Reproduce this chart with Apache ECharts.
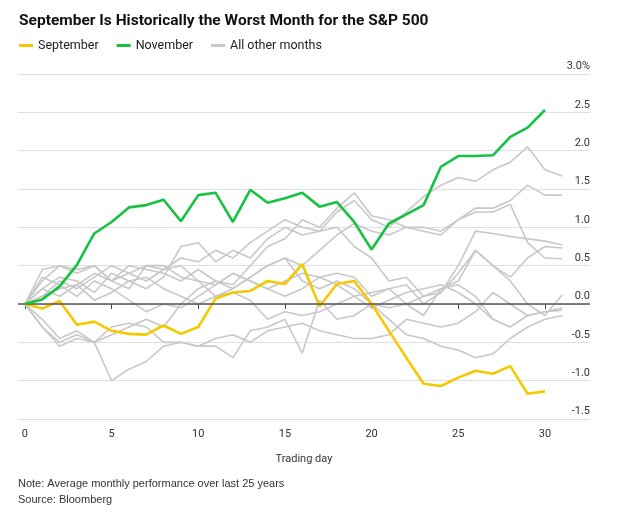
<html>
<head>
    <meta charset="utf-8">
    <title>September S&P 500</title>
    <style>
        body { margin: 0; background: #fff; }
        #chart { width: 619px; height: 507px; }
    </style>
</head>
<body>
<div id="chart"></div>
<script src="https://cdn.jsdelivr.net/npm/echarts@6/dist/echarts.min.js"></script>
<script>
    var days = [];
    for (var i = 0; i <= 31; i++) days.push(i);

    var september = [0, -0.06, 0.04, -0.27, -0.23, -0.35, -0.39, -0.40, -0.28, -0.39, -0.30, 0.07, 0.15, 0.17, 0.30, 0.26,
        0.52, -0.03, 0.26, 0.30, 0, -0.35, -0.70, -1.04, -1.07, -0.96, -0.87, -0.91, -0.81, -1.17, -1.14];
    var november = [0, 0.06, 0.23, 0.51, 0.92, 1.07, 1.26, 1.29, 1.36, 1.08, 1.42, 1.45, 1.07, 1.49, 1.32, 1.38,
        1.45, 1.27, 1.33, 1.07, 0.71, 1.05, 1.17, 1.29, 1.79, 1.93, 1.93, 1.94, 2.18, 2.30, 2.53];

    var others = [
        [0, 0.3, 0.5, 0.4, 0.5, 0.3, 0.4, 0.5, 0.45, 0.6, 0.55, 0.7, 0.6, 0.8, 0.95, 1.1, 1.0, 0.95, 1.2, 1.35, 1.1, 1.0, 1.2, 1.4, 1.55, 1.65, 1.6, 1.75, 1.85, 2.05, 1.75, 1.67],
        [0, -0.3, -0.5, -0.4, -0.5, -0.4, -0.3, -0.2, -0.3, 0.0, 0.2, 0.3, 0.25, 0.5, 0.75, 0.85, 1.1, 1.0, 1.25, 1.45, 1.15, 1.1, 1.0, 0.95, 0.9, 1.1, 1.25, 1.25, 1.35, 1.55, 1.42, 1.42],
        [0, 0.2, 0.35, 0.3, 0.15, 0.4, 0.3, 0.2, 0.35, 0.75, 0.8, 0.55, 0.7, 0.6, 0.85, 1.0, 0.9, 0.95, 1.0, 0.75, 0.6, 0.3, 0.35, 0.1, 0.15, 0.5, 0.95, 0.92, 0.88, 0.85, 0.82, 0.77],
        [0, 0.45, 0.5, 0.45, 0.5, 0.3, 0.2, 0.5, 0.5, 0.35, 0.3, 0.25, 0.4, 0.3, 0.2, 0.3, 0.4, 0.35, 0.4, 0.35, 0.1, 0.2, 0.25, 0.0, 0.15, 0.4, 0.7, 0.5, 0.35, 0.6, 0.75, 0.73],
        [0, 0.1, 0.3, 0.2, 0.35, 0.5, 0.4, 0.3, 0.45, 0.5, 0.3, 0.1, 0.2, 0.35, 0.5, 0.6, 0.5, 0.7, 0.9, 1.05, 0.95, 0.9, 1.0, 1.0, 0.95, 1.1, 1.2, 1.2, 1.3, 0.8, 0.6, 0.59],
        [0, 0.35, 0.25, 0.1, 0.3, 0.2, 0.05, -0.1, 0.0, -0.05, 0.1, 0.25, 0.4, 0.3, 0.2, 0.1, 0.2, 0.35, 0.25, 0.1, 0.15, 0.2, 0.0, 0.1, 0.2, 0.3, 0.7, 0.5, 0.3, 0.0, -0.15, 0.12],
        [0, 0.2, 0.1, 0.25, 0.05, 0.15, 0.3, 0.35, 0.2, 0.1, 0.0, 0.1, 0.15, 0.05, -0.2, -0.1, -0.15, -0.1, 0.0, 0.1, -0.05, 0.05, 0.15, 0.2, 0.25, 0.15, 0.0, -0.2, -0.3, -0.15, -0.1, -0.08],
        [0, 0.1, 0.2, 0.25, 0.4, 0.3, 0.5, 0.45, 0.4, 0.3, 0.45, 0.3, 0.2, 0.35, 0.5, 0.6, 0.3, 0.2, 0.3, 0.2, 0.0, -0.05, 0.0, -0.15, 0.2, 0.25, 0.1, -0.2, -0.3],
        [0, -0.2, -0.45, -0.35, -0.5, -1.0, -0.85, -0.75, -0.55, -0.5, -0.55, -0.55, -0.7, -0.35, -0.3, -0.2, -0.64, 0.05, -0.2, -0.15, 0.0, -0.2, -0.4, -0.45, -0.55, -0.6, -0.7, -0.65, -0.45, -0.3, -0.2, -0.15],
        [0, -0.3, -0.55, -0.45, -0.5, -0.3, -0.25, -0.3, -0.5, -0.5, -0.55, -0.45, -0.4, -0.5, -0.35, -0.3, -0.25, -0.35, -0.4, -0.45, -0.45, -0.4, -0.2, -0.25, -0.3, -0.25, -0.1, 0.15, 0.0, -0.15, -0.1, -0.05]
    ];

    var xTicks = [0, 5, 10, 15, 20, 25, 30];

    function pairs(arr) {
        return arr.map(function (v, i) { return [days[i], v]; });
    }

    var series = [];
    others.forEach(function (arr, k) {
        var s = {
            name: 'All other months',
            type: 'line',
            data: pairs(arr),
            symbol: 'none',
            lineStyle: { color: '#c8c8c8', width: 1.6 },
            itemStyle: { color: '#c8c8c8' },
            z: 2
        };
        if (k === 0) {
            s.markLine = {
                silent: true,
                symbol: 'none',
                label: { show: false },
                lineStyle: { color: '#555', width: 1.5, type: 'solid' },
                data: [{ yAxis: 0 }]
            };
        }
        series.push(s);
    });
    series.push({
        name: 'September', type: 'line', data: pairs(september), symbol: 'none',
        lineStyle: { color: '#f5c800', width: 2.6 }, itemStyle: { color: '#f5c800' }, z: 4
    });
    series.push({
        name: 'November', type: 'line', data: pairs(november), symbol: 'none',
        lineStyle: { color: '#17c243', width: 2.6 }, itemStyle: { color: '#17c243' }, z: 5
    });

    var option = {
        animation: false,
        textStyle: { fontFamily: 'Roboto, Arial, sans-serif' },
        title: {
            text: 'September Is Historically the Worst Month for the S&P 500',
            left: 14, top: 8,
            textStyle: { fontSize: 15.5, fontWeight: 'bold', color: '#111' }
        },
        legend: {
            data: ['September', 'November', 'All other months'],
            left: 14, top: 34,
            icon: 'rect', itemWidth: 14, itemHeight: 3, itemGap: 18,
            textStyle: { fontSize: 12.5, color: '#222' }
        },
        graphic: [
            { type: 'text', left: 18, top: 478, style: { text: 'Note: Average monthly performance over last 25 years', fontSize: 11, fill: '#333' } },
            { type: 'text', left: 18, top: 494, style: { text: 'Source: Bloomberg', fontSize: 11, fill: '#333' } }
        ],
        grid: { left: 18, right: 29, top: 74, bottom: 88 },
        xAxis: {
            type: 'value', min: -0.4, max: 32.6,
            name: 'Trading day', nameLocation: 'middle', nameGap: 35,
            nameTextStyle: { fontSize: 11, color: '#333' },
            axisLine: { show: false },
            axisTick: { show: true, customValues: xTicks, length: 5, lineStyle: { color: '#444' } },
            axisLabel: { customValues: xTicks, fontSize: 11, color: '#333', margin: 10 },
            splitLine: { show: false }
        },
        yAxis: {
            type: 'value', min: -1.5, max: 3.0, interval: 0.5, position: 'right',
            axisLine: { show: false }, axisTick: { show: false },
            axisLabel: {
                inside: true, margin: 0, align: 'right', verticalAlign: 'bottom', padding: [0, 0, 2, 0],
                fontSize: 11, color: '#333',
                formatter: function (v) { return v === 3 ? '3.0%' : v.toFixed(1); }
            },
            splitLine: { lineStyle: { color: '#e0e0e0', width: 1 } }
        },
        series: series
    };

    echarts.init(document.getElementById('chart')).setOption(option);
</script>
</body>
</html>
